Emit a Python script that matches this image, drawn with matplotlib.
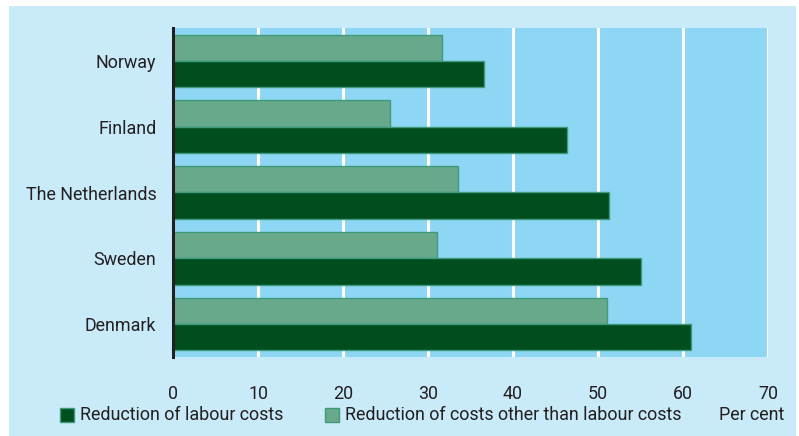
import numpy as np
import matplotlib
matplotlib.use('Agg')
import matplotlib.pyplot as plt
from matplotlib.patches import Rectangle

plt.rcParams['font.family'] = ['Roboto', 'DejaVu Sans']

# Data (per cent)
countries = ["Norway", "Finland", "The Netherlands", "Sweden", "Denmark"]
labour = [36.6, 46.4, 51.3, 55.1, 60.9]
other = [31.7, 25.5, 33.5, 31.0, 51.1]
xticks = [0, 10, 20, 30, 40, 50, 60, 70]

OUTER_BG = "#c8eaf9"
PANEL_BG = "#8dd7f5"
DARK = "#004d1e"
LIGHT = "#67a98a"
EDGE = "#3d9a7a"
TEXT = "#231f20"
FS = 12.9

W, H = 799, 436
fig = plt.figure(figsize=(W / 100, H / 100), dpi=100)
fig.patch.set_facecolor("white")
fig.patches.append(Rectangle((9 / W, 0), (796 - 9) / W, (H - 6) / H,
                             transform=fig.transFigure, facecolor=OUTER_BG,
                             edgecolor="none", zorder=-10))

ax = fig.add_axes([173 / W, 1 - 357 / H, (768 - 173) / W, (357 - 28) / H])
ax.set_facecolor(PANEL_BG)

y = np.arange(len(countries))
h = 0.4
ax.barh(y - h / 2, other, height=h, color=LIGHT, edgecolor=EDGE, linewidth=1, zorder=3)
ax.barh(y + h / 2, labour, height=h, color=DARK, edgecolor=EDGE, linewidth=1, zorder=3)

ax.set_xlim(0, 70)
ax.set_ylim(len(countries) - 0.5, -0.5)
ax.set_xticks(xticks)
ax.set_xticklabels([str(t) for t in xticks])
ax.set_yticks(y)
ax.set_yticklabels(countries)
ax.xaxis.grid(True, color="white", linewidth=2.2, zorder=1)
ax.set_axisbelow(True)
ax.tick_params(axis="both", length=0, colors=TEXT, labelsize=FS)
ax.tick_params(axis="x", pad=20)
ax.tick_params(axis="y", pad=12)

for s in ["top", "right", "bottom"]:
    ax.spines[s].set_visible(False)
ax.spines["left"].set_color(TEXT)
ax.spines["left"].set_linewidth(2.2)
ax.spines["left"].set_zorder(5)

# Legend row
ly = 1 - 415 / H
sq = 14
fig.patches.append(Rectangle((60 / W, 1 - 422 / H), sq / W, sq / H, transform=fig.transFigure,
                             facecolor=DARK, edgecolor=EDGE, linewidth=1, zorder=2))
fig.text(80 / W, ly, "Reduction of labour costs", fontsize=FS, color=TEXT, va="center", ha="left")
fig.patches.append(Rectangle((325 / W, 1 - 422 / H), sq / W, sq / H, transform=fig.transFigure,
                             facecolor=LIGHT, edgecolor=EDGE, linewidth=1, zorder=2))
fig.text(345 / W, ly, "Reduction of costs other than labour costs", fontsize=FS, color=TEXT,
         va="center", ha="left")
fig.text(752 / W, ly, "Per cent", fontsize=FS, color=TEXT, va="center", ha="center")

fig.savefig("out.png", dpi=100, facecolor=fig.get_facecolor())
